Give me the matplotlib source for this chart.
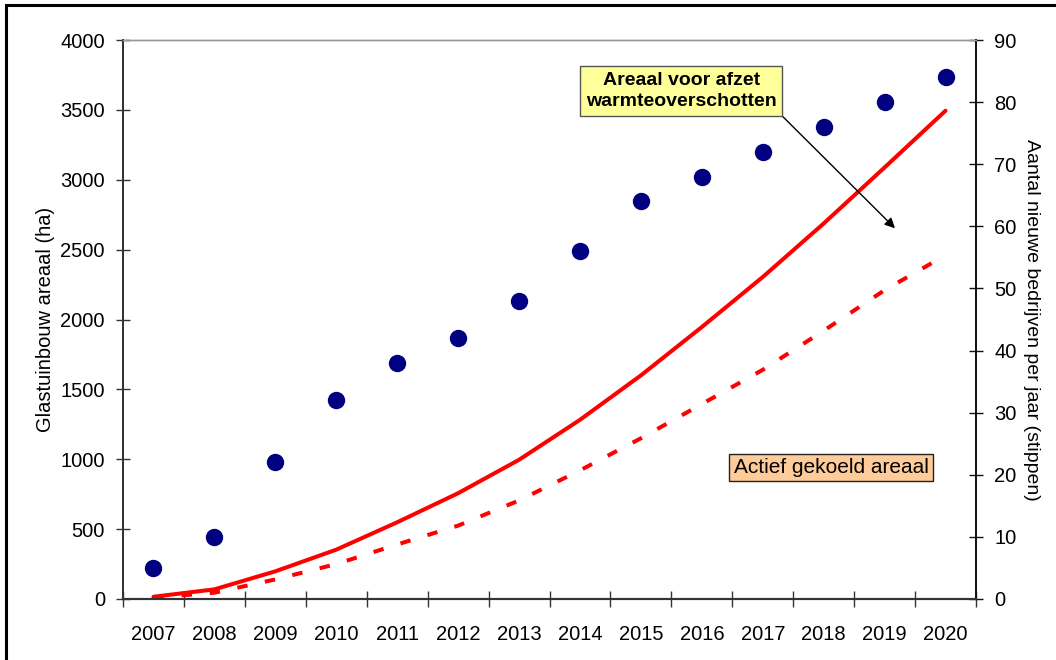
import numpy as np
import matplotlib.pyplot as plt
from matplotlib.patches import Rectangle

plt.rcParams['font.family'] = ['Liberation Sans', 'DejaVu Sans']

# data
years = ['2007', '2008', '2009', '2010', '2011', '2012', '2013',
         '2014', '2015', '2016', '2017', '2018', '2019', '2020']
areaal_warmte = [16, 69, 198, 353, 549, 757, 996, 1282, 1600, 1946, 2304, 2687, 3088, 3494]
areaal_gekoeld = [10, 45, 140, 250, 390, 525, 705, 920, 1150, 1395, 1640, 1920, 2210, 2460]
nieuwe_bedrijven = [5, 10, 22, 32, 38, 42, 48, 56, 64, 68, 72, 76, 80, 84]

x = np.arange(len(years))

fig = plt.figure(figsize=(10.56, 6.6), dpi=100)
ax = fig.add_axes([123 / 1056, 1 - 599 / 660, (976 - 123) / 1056, (599 - 40) / 660])
ax2 = ax.twinx()

# lines (left axis)
ax.plot(x, areaal_warmte, color='#ff0000', lw=2.9, solid_capstyle='round', zorder=3)
ax.plot(x, areaal_gekoeld, color='#ff0000', lw=2.9, linestyle=(0, (2.6, 4.4)), zorder=3)

# dots (right axis)
ax2.plot(x, nieuwe_bedrijven, linestyle='none', marker='o', markersize=11.5,
         color='#000080', markeredgecolor='#000080')

ax.set_xlim(-0.5, len(years) - 0.5)
ax.set_ylim(0, 4000)
ax2.set_ylim(0, 90)
ax.set_yticks(np.arange(0, 4001, 500))
ax2.set_yticks(np.arange(0, 91, 10))

# category boundaries as tick marks, labels in the middle
ax.set_xticks(np.arange(-0.5, len(years), 1))
ax.set_xticklabels([])
ax.set_xticks(x, minor=True)
ax.set_xticklabels(years, minor=True)
ax.tick_params(axis='x', which='major', direction='inout', length=12, width=1, color='#333333')
ax.tick_params(axis='x', which='minor', length=0, pad=19, labelsize=14.5)
ax.tick_params(axis='y', direction='inout', length=10, width=1, color='#333333', pad=8, labelsize=14.5)
ax2.tick_params(axis='y', direction='inout', length=10, width=1, color='#111111', pad=8, labelsize=14.5)

for a in (ax, ax2):
    a.spines['top'].set_color('#999999')
    a.spines['top'].set_linewidth(1)
    a.spines['left'].set_color('#333333')
    a.spines['bottom'].set_color('#333333')
    a.spines['right'].set_color('#111111')
    a.spines['left'].set_linewidth(1.3)
    a.spines['bottom'].set_linewidth(1.5)
    a.spines['right'].set_linewidth(1.3)

ax.set_ylabel('Glastuinbouw areaal (ha)', fontsize=14.5, va='center')
ax.yaxis.set_label_coords(-0.0914, 0.5)
ax2.set_ylabel('Aantal nieuwe bedrijven per jaar (stippen)', fontsize=14,
               rotation=-90, va='center')
ax2.yaxis.set_label_coords(1.0645, 0.5)

# annotations
ax.annotate('Areaal voor afzet\nwarmteoverschotten', xy=(12.17, 2653), xytext=(8.66, 3635),
            ha='center', va='center', fontsize=14, fontweight='bold', linespacing=1.35,
            bbox=dict(boxstyle='square,pad=0.3', fc='#ffff99', ec='#555555', lw=1),
            arrowprops=dict(arrowstyle='-|>', color='black', lw=1, relpos=(1, 0),
                            shrinkA=0, shrinkB=0, mutation_scale=15),
            zorder=5)
ax.text(11.12, 941, 'Actief gekoeld areaal', ha='center', va='center', fontsize=15,
        bbox=dict(boxstyle='square,pad=0.2', fc='#ffcc99', ec='#222222', lw=1), zorder=5)

# outer frame of the picture
fig.patches.append(Rectangle((6 / 1056, -0.2), 1.3, 1 - 5 / 660 + 0.2,
                             transform=fig.transFigure, fill=False, ec='black', lw=2.2))

fig.savefig('out.png', dpi=100)
